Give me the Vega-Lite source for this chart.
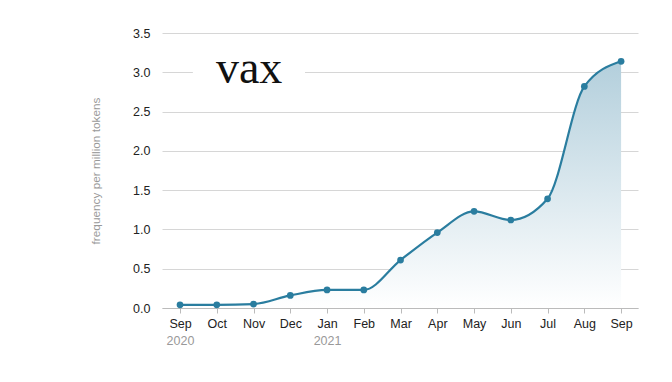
{
  "$schema": "https://vega.github.io/schema/vega-lite/v6.json",
  "autosize": {"type": "none"},
  "width": 476,
  "height": 275,
  "padding": {"left": 162, "top": 33, "right": 34, "bottom": 74},
  "background": "white",
  "config": {
    "view": {"stroke": null},
    "font": "Liberation Sans",
    "axis": {"labelFont": "Liberation Sans", "titleFont": "Liberation Sans"},
    "axisY": {
      "values": [0, 0.5, 1, 1.5, 2, 2.5, 3, 3.5],
      "format": ".1f",
      "titleColor": "#999999",
      "titleFontSize": 11.8,
      "titleFontWeight": "normal",
      "titlePadding": 31,
      "labelColor": "#222222",
      "labelFontSize": 12.5,
      "labelPadding": 12,
      "domain": false,
      "ticks": false,
      "gridColor": "#d6d6d6",
      "gridWidth": 1
    }
  },
  "datasets": {
    "series": [
      {"i": 0, "month": "Sep 2020", "value": 0.04},
      {"i": 1, "month": "Oct 2020", "value": 0.04},
      {"i": 2, "month": "Nov 2020", "value": 0.05},
      {"i": 3, "month": "Dec 2020", "value": 0.16},
      {"i": 4, "month": "Jan 2021", "value": 0.23},
      {"i": 5, "month": "Feb 2021", "value": 0.23},
      {"i": 6, "month": "Mar 2021", "value": 0.61},
      {"i": 7, "month": "Apr 2021", "value": 0.96},
      {"i": 8, "month": "May 2021", "value": 1.23},
      {"i": 9, "month": "Jun 2021", "value": 1.12},
      {"i": 10, "month": "Jul 2021", "value": 1.39},
      {"i": 11, "month": "Aug 2021", "value": 2.82},
      {"i": 12, "month": "Sep 2021", "value": 3.14}
    ],
    "titlebox": [{"x0": 0.35, "x1": 3.4, "y0": 2.75, "y1": 3.25, "tx": 1.88, "ty": 2.86, "label": "vax"}]
  },
  "layer": [
    {
      "data": {"name": "series"},
      "mark": {
        "type": "area",
        "interpolate": "monotone",
        "fill": {
          "gradient": "linear",
          "x1": 1, "y1": 1, "x2": 1, "y2": 0,
          "stops": [
            {"offset": 0, "color": "#ffffff"},
            {"offset": 1, "color": "#b3cfdc"}
          ]
        }
      },
      "encoding": {
        "x": {
          "field": "i", "type": "quantitative",
          "scale": {"domain": [-0.49, 12.46], "nice": false, "zero": false},
          "axis": {
            "values": [0,1,2,3,4,5,6,7,8,9,10,11,12],
            "labelExpr": "['Sep','Oct','Nov','Dec','Jan','Feb','Mar','Apr','May','Jun','Jul','Aug','Sep'][datum.value]",
            "title": null,
            "grid": false,
            "domainColor": "#bbbbbb",
            "tickColor": "#bbbbbb",
            "tickSize": 5,
            "labelColor": "#222222",
            "labelFontSize": 12.5,
            "labelPadding": 4
          }
        },
        "y": {
          "field": "value", "type": "quantitative",
          "scale": {"domain": [0, 3.5], "nice": false},
          "title": "frequency per million tokens"
        }
      }
    },
    {
      "data": {"name": "series"},
      "mark": {"type": "line", "interpolate": "monotone", "color": "#2a7d9f", "strokeWidth": 2.2},
      "encoding": {
        "x": {"field": "i", "type": "quantitative", "axis": null},
        "y": {"field": "value", "type": "quantitative", "title": "frequency per million tokens"}
      }
    },
    {
      "data": {"name": "series"},
      "mark": {"type": "point", "filled": true, "opacity": 1, "color": "#2a7d9f", "size": 45},
      "encoding": {
        "x": {
          "field": "i", "type": "quantitative",
          "axis": {
            "orient": "bottom",
            "values": [0, 4],
            "labelExpr": "datum.value == 0 ? '2020' : '2021'",
            "title": null,
            "grid": false,
            "domain": false,
            "ticks": false,
            "labelColor": "#999999",
            "labelFontSize": 12.5,
            "labelPadding": 26
          }
        },
        "y": {"field": "value", "type": "quantitative", "title": "frequency per million tokens"}
      }
    },
    {
      "data": {"name": "titlebox"},
      "mark": {"type": "rect", "fill": "white"},
      "encoding": {
        "x": {"field": "x0", "type": "quantitative", "axis": null},
        "x2": {"field": "x1"},
        "y": {"field": "y0", "type": "quantitative", "title": "frequency per million tokens"},
        "y2": {"field": "y1"}
      }
    },
    {
      "data": {"name": "titlebox"},
      "mark": {"type": "text", "font": "Liberation Serif", "fontSize": 46, "color": "#111111", "baseline": "alphabetic", "align": "center"},
      "encoding": {
        "x": {"field": "tx", "type": "quantitative", "axis": null},
        "y": {"field": "ty", "type": "quantitative", "title": "frequency per million tokens"},
        "text": {"field": "label"}
      }
    }
  ],
  "resolve": {"axis": {"x": "independent"}}
}
